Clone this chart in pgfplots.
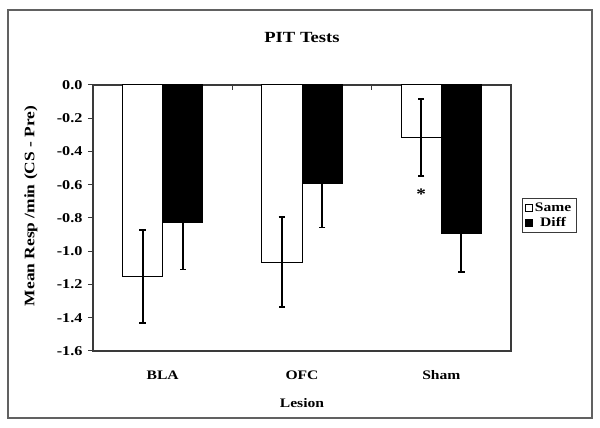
\documentclass[border=0pt]{standalone}
\usepackage{pgfplots}
\pgfplotsset{compat=1.18}
\usepackage{fontspec}
\setmainfont{Liberation Serif}[FakeStretch=1.2]
\definecolor{framegray}{HTML}{3A3A3A}
\newcommand{\fs}[1]{\fontsize{#1}{#1}\selectfont\bfseries}
\begin{document}
\begin{tikzpicture}
\path (0pt,0pt) rectangle (600pt,428pt);
\draw[line width=1.2pt, framegray!80] (8pt,10pt) rectangle (592pt,418pt);
\begin{axis}[
  at={(93pt,77pt)}, anchor=south west,
  scale only axis, width=418pt, height=266pt,
  xmin=-0.5, xmax=2.5, ymin=-1.6, ymax=0,
  axis line style={line width=1.1pt, framegray},
  ybar=0pt, bar width=0.288,
  xtick={0.5,1.5}, xticklabels={},
  xtick pos=upper, xticklabel pos=lower,
  xtick align=inside,
  extra x ticks={0,1,2},
  extra x tick labels={BLA,OFC,Sham},
  extra x tick style={major tick length=0pt},
  xticklabel style={font=\fs{13}, yshift=-16pt},
  ytick={-1.6,-1.4,...,0.01},
  ytick pos=left, ytick align=outside,
  major tick length=5pt,
  tick style={line width=1pt, framegray},
  yticklabel style={font=\fs{13.5}, /pgf/number format/fixed, /pgf/number format/fixed zerofill, /pgf/number format/precision=1, /pgf/number format/assume math mode=true, xshift=-2pt},
  title={PIT Tests},
  title style={font=\fs{15.5}, at={(axis description cs:0.5,1)}, anchor=center, yshift=41pt},
  xlabel={Lesion},
  xlabel style={font=\fs{13}, at={(axis description cs:0.5,0)}, anchor=center, yshift=-52pt},
  ylabel={Mean Resp /min (CS - Pre)},
  ylabel style={font=\fs{14.5}, at={(axis description cs:0,0.545)}, anchor=center, yshift=62pt},
  legend style={at={(axis description cs:1.026,0.575)}, anchor=north west, draw=framegray, line width=0.8pt, font=\fs{13}, inner xsep=3pt, inner ysep=2.5pt, row sep=0pt, /tikz/every even column/.append style={column sep=0pt}},
  legend image code/.code={\draw[#1, draw=black, line width=0.7pt] (0pt,-3.5pt) rectangle (7pt,3.5pt);},
  error bars/y dir=both, error bars/y explicit,
  error bars/error bar style={line width=1.8pt, black},
  error bars/error mark options={rotate=90, line width=1.8pt, black, mark size=3.2pt},
]
\addplot[draw=black, fill=white, line width=1pt] coordinates {
  (0,-1.15) +- (0,0.28)
  (1,-1.065) +- (0,0.27)
  (2,-0.315) +- (0,0.232)
};
\addplot[draw=black, fill=black, line width=1pt] coordinates {
  (0,-0.83) +- (0,0.28)
  (1,-0.595) +- (0,0.262)
  (2,-0.895) +- (0,0.228)
};
\legend{Same,Diff}
\node[font=\fs{16}] at (axis cs:1.856,-0.66) {*};
\end{axis}
\end{tikzpicture}
\end{document}
